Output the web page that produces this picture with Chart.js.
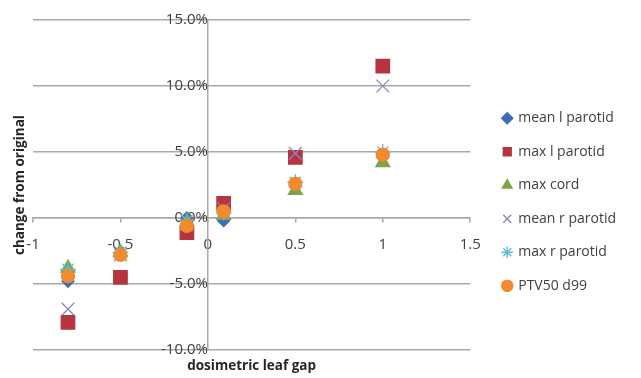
<!DOCTYPE html>
<html>
<head>
<meta charset="utf-8">
<script src="https://cdn.jsdelivr.net/npm/chart.js@4.4.1/dist/chart.umd.min.js"></script>
<style>
  html, body { margin: 0; padding: 0; background: #ffffff; }
  canvas { display: block; }
</style>
</head>
<body>
<canvas id="chart" width="641" height="378"></canvas>
<script>
// ---- data ----
const xValues = [-0.8, -0.5, -0.12, 0.09, 0.5, 1];
const seriesNames = ['mean l parotid', 'max l parotid', 'max cord', 'mean r parotid', 'max r parotid', 'PTV50 d99'];
const meanLParotid = [-4.8, -2.7, 0.0, -0.2, 2.4, 4.6];
const maxLParotid  = [-7.9, -4.5, -1.1, 1.1, 4.6, 11.5];
const maxCord      = [-3.8, -2.6, -0.3, 0.2, 2.1, 4.2];
const meanRParotid = [-6.9, -2.8, -0.5, 0.7, 4.9, 10.0];
const maxRParotid  = [-3.9, -2.6, -0.2, 0.4, 2.7, 5.0];
const ptv50d99     = [-4.4, -2.8, -0.6, 0.5, 2.6, 4.8];
const xTickValues = [-1, -0.5, 0, 0.5, 1, 1.5];
const yTickValues = [-10, -5, 0, 5, 10, 15];
const xTitle = 'dosimetric leaf gap';
const yTitle = 'change from original';

const seriesValues = [meanLParotid, maxLParotid, maxCord, meanRParotid, maxRParotid, ptv50d99];

// ---- styles ----
const seriesStyles = [
  { pointStyle: 'rectRot',  color: '#3e6db4', radius: 6 },
  { pointStyle: 'rect',     color: '#b5343f', radius: 9.5 },
  { pointStyle: 'triangle', color: '#7ea443', radius: 8 },
  { pointStyle: 'crossRot', color: '#8a84c0', radius: 9 },
  { pointStyle: 'star',     color: '#5fbcd6', radius: 8 },
  { pointStyle: 'circle',   color: '#f28a30', radius: 6.5 }
];

const datasets = seriesNames.map((name, i) => ({
  label: name,
  data: xValues.map((x, j) => ({ x: x, y: seriesValues[i][j] })),
  pointStyle: seriesStyles[i].pointStyle,
  pointRadius: seriesStyles[i].radius,
  pointHoverRadius: seriesStyles[i].radius,
  backgroundColor: seriesStyles[i].color,
  borderColor: seriesStyles[i].color,
  borderWidth: 1.3,
  order: seriesNames.length - 1 - i
}));

Chart.defaults.font.family = '"Open Sans", "DejaVu Sans", sans-serif';
Chart.defaults.color = '#404040';

const gridColor = '#a9a9a9';
const legendGap = 13.5;

const axisTitlePlugin = {
  id: 'axisTitles',
  afterLayout(chart) {
    // leave a gap between the plot area and the legend items
    if (chart.legend) {
      chart.legend.left += legendGap;
      chart.legend.right += legendGap;
    }
  },
  afterDraw(chart) {
    const { ctx, chartArea } = chart;
    ctx.save();
    ctx.fillStyle = '#262626';
    ctx.font = 'bold 13.5px "Open Sans", "DejaVu Sans", sans-serif';
    ctx.textAlign = 'center';
    ctx.textBaseline = 'middle';
    ctx.fillText(xTitle, (chartArea.left + chartArea.right) / 2, chartArea.bottom + 16);
    ctx.translate(20, (chartArea.top + chartArea.bottom) / 2);
    ctx.rotate(-Math.PI / 2);
    ctx.fillText(yTitle, 0, 0);
    ctx.restore();
  }
};

new Chart(document.getElementById('chart'), {
  type: 'scatter',
  data: { datasets: datasets },
  options: {
    responsive: false,
    devicePixelRatio: 1,
    animation: false,
    layout: { padding: { left: 33, top: 20, bottom: 28, right: 28.5 } },
    scales: {
      x: {
        type: 'linear',
        position: { y: 0 },
        min: xTickValues[0],
        max: xTickValues[xTickValues.length - 1],
        ticks: {
          stepSize: xTickValues[1] - xTickValues[0],
          padding: 14,
          font: { size: 15 },
          color: '#404040',
          callback: (v) => String(Number(v.toFixed(2)))
        },
        grid: { display: true, drawOnChartArea: false, tickLength: 4, color: gridColor, lineWidth: 1.5 },
        border: { display: true, color: gridColor, width: 1.5 },
        afterFit(s) { s.paddingLeft = 0; s.paddingRight = 0; }
      },
      y: {
        type: 'linear',
        position: { x: 0 },
        min: yTickValues[0],
        max: yTickValues[yTickValues.length - 1],
        ticks: {
          stepSize: yTickValues[1] - yTickValues[0],
          padding: 17,
          font: { size: 15 },
          color: '#404040',
          callback: (v) => v.toFixed(1) + '%'
        },
        grid: { display: true, drawTicks: false, color: gridColor, lineWidth: 1.5 },
        border: { display: true, color: gridColor, width: 1.5 },
        afterFit(s) { s.paddingTop = 0; s.paddingBottom = 0; }
      }
    },
    plugins: {
      tooltip: { enabled: false },
      legend: {
        display: true,
        position: 'right',
        align: 'center',
        title: { display: true, text: '', font: { size: 10 }, padding: { top: 22, bottom: 0 } },
        labels: {
          usePointStyle: true,
          boxWidth: 8,
          boxHeight: 8,
          padding: 19.5,
          color: '#404040',
          font: { size: 14 },
          sort: (a, b) => a.datasetIndex - b.datasetIndex
        }
      }
    }
  },
  plugins: [axisTitlePlugin]
});
</script>
</body>
</html>
